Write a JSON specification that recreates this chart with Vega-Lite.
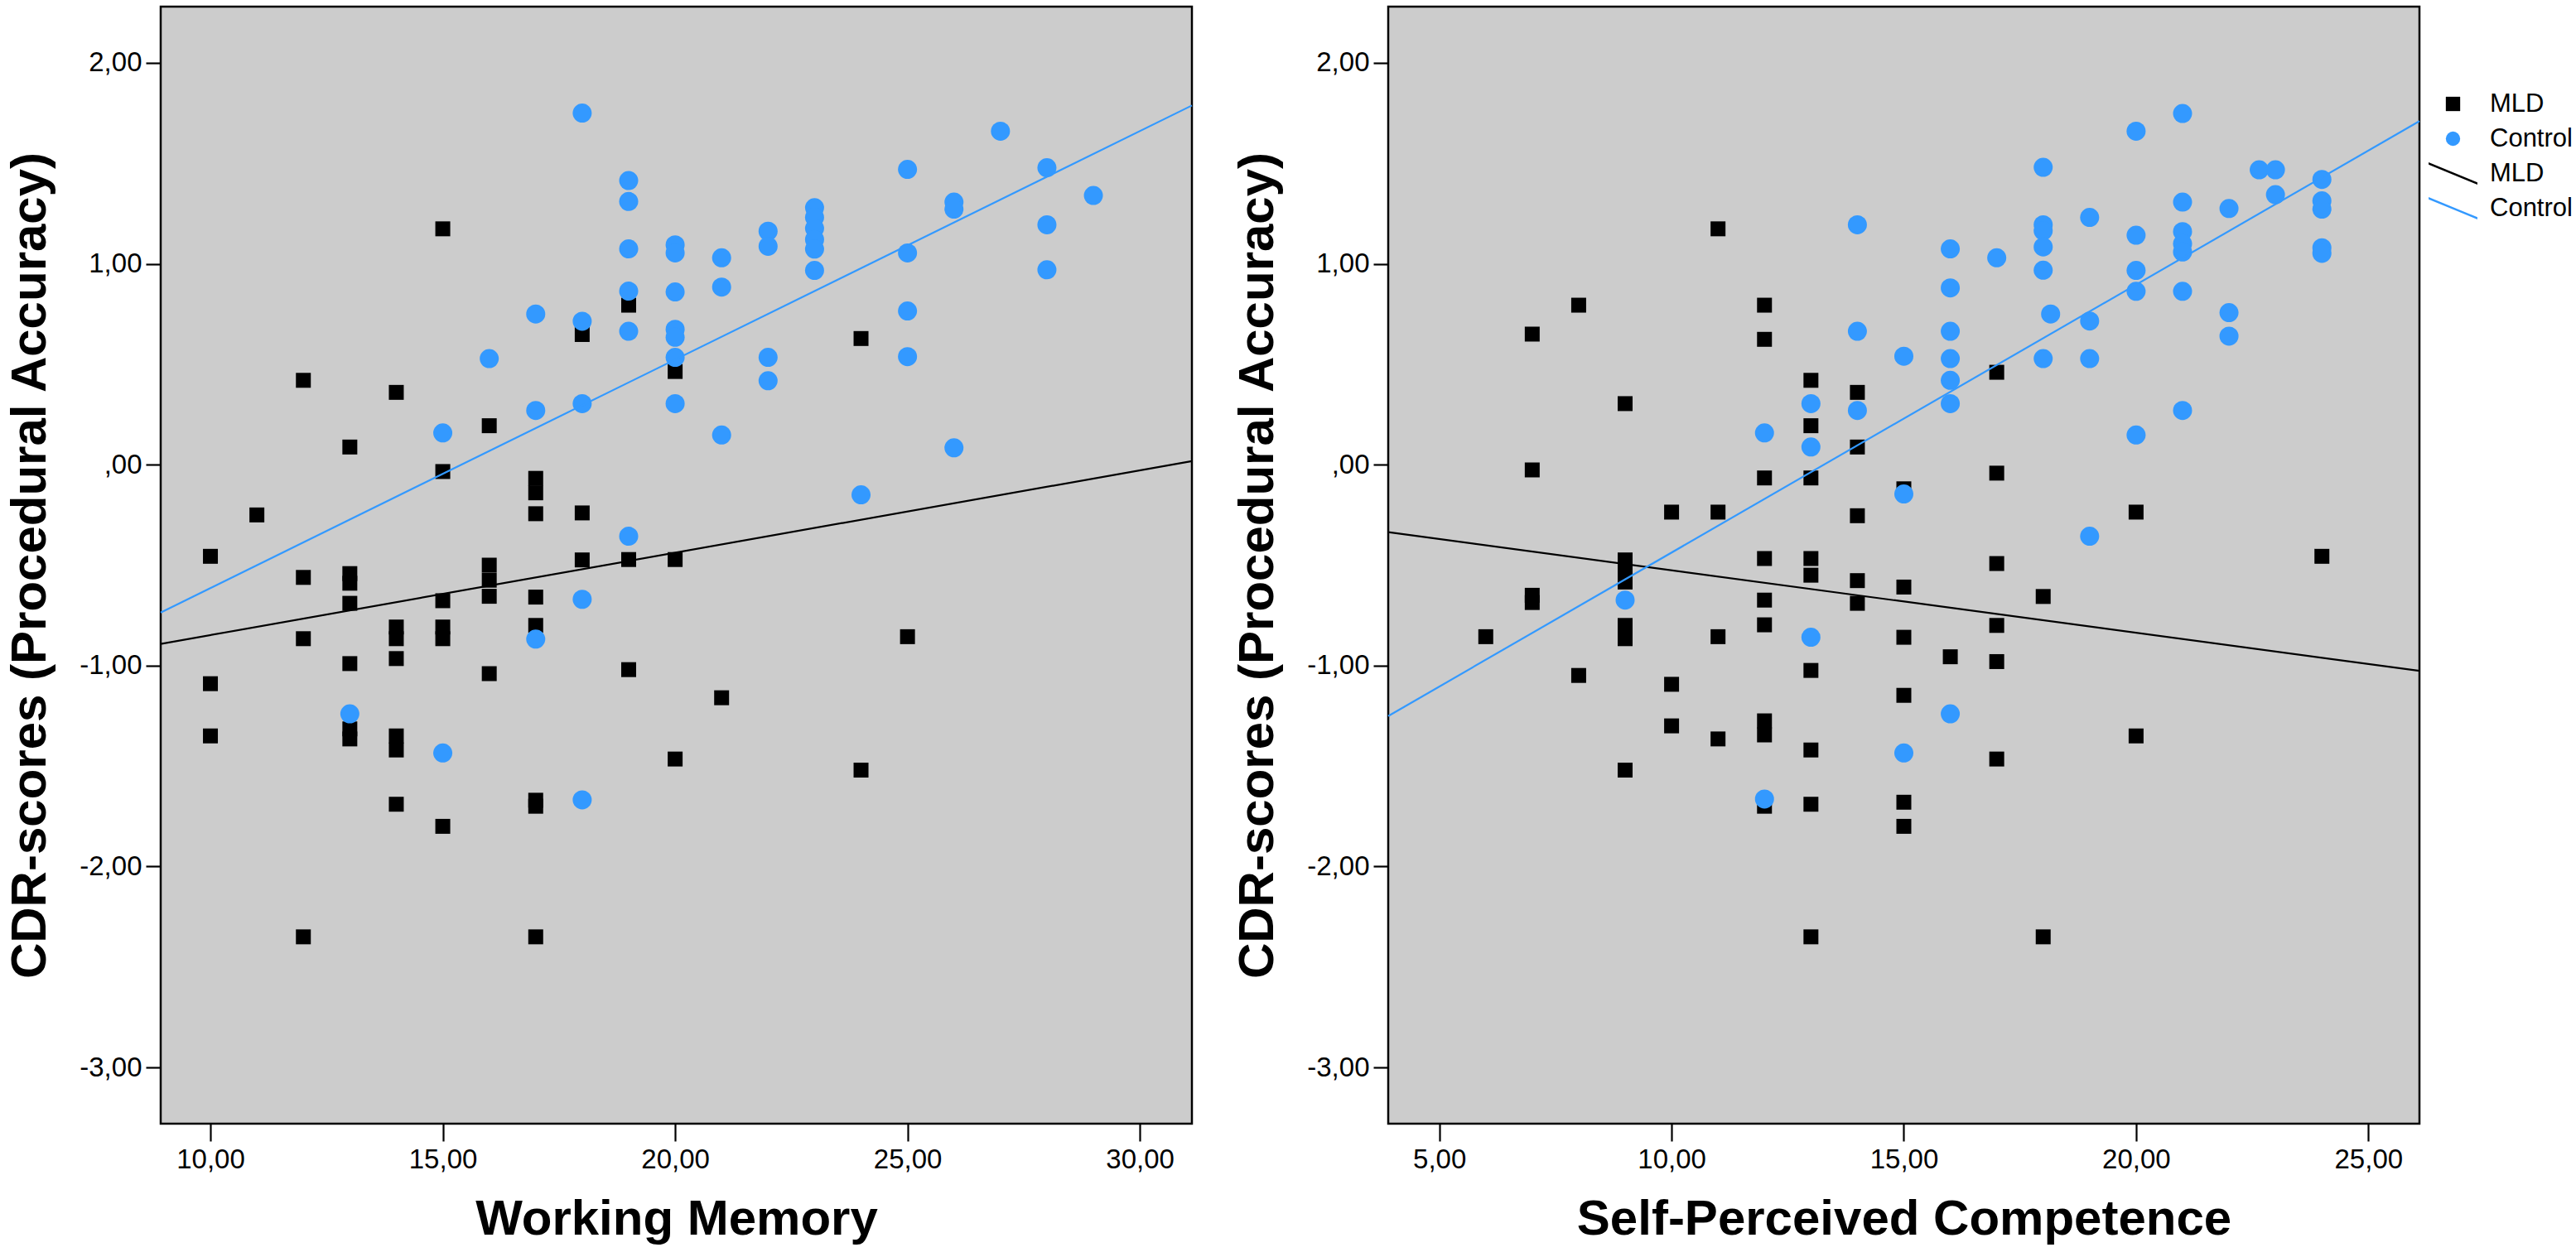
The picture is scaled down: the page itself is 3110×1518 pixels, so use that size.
{
  "$schema": "https://vega.github.io/schema/vega-lite/v6.json",
  "background": "white",
  "padding": {"left": 5, "top": 6, "right": 0, "bottom": 0},
  "config": {
    "view": {"fill": "#cccccc", "stroke": "#000000", "strokeWidth": 2.5},
    "font": "Liberation Sans",
    "axis": {
      "labelFont": "Liberation Sans", "labelFontSize": 33, "labelColor": "#000000",
      "titleFont": "Liberation Sans", "titleFontSize": 60, "titleFontWeight": "bold", "titleColor": "#000000",
      "grid": false, "domain": false, "tickColor": "#000000", "tickWidth": 2.2
    },
    "legend": {
      "labelFont": "Liberation Sans", "labelFontSize": 31, "labelColor": "#000000",
      "symbolSize": 300, "symbolStrokeWidth": 0, "labelOffset": 29, "rowPadding": 10, "padding": 0
    }
  },
  "datasets": {
    "pts": [
      {"p":"wm","x":10,"y":-0.456,"key":"MLD"},{"p":"wm","x":10,"y":-1.09,"key":"MLD"},{"p":"wm","x":10,"y":-1.35,"key":"MLD"},
      {"p":"wm","x":11,"y":-0.25,"key":"MLD"},
      {"p":"wm","x":12,"y":0.42,"key":"MLD"},{"p":"wm","x":12,"y":-0.561,"key":"MLD"},{"p":"wm","x":12,"y":-0.866,"key":"MLD"},{"p":"wm","x":12,"y":-2.35,"key":"MLD"},
      {"p":"wm","x":13,"y":0.088,"key":"MLD"},{"p":"wm","x":13,"y":-0.542,"key":"MLD"},{"p":"wm","x":13,"y":-0.59,"key":"MLD"},{"p":"wm","x":13,"y":-0.69,"key":"MLD"},{"p":"wm","x":13,"y":-0.99,"key":"MLD"},{"p":"wm","x":13,"y":-1.315,"key":"MLD"},{"p":"wm","x":13,"y":-1.365,"key":"MLD"},
      {"p":"wm","x":14,"y":0.36,"key":"MLD"},{"p":"wm","x":14,"y":-0.808,"key":"MLD"},{"p":"wm","x":14,"y":-0.866,"key":"MLD"},{"p":"wm","x":14,"y":-0.965,"key":"MLD"},{"p":"wm","x":14,"y":-1.35,"key":"MLD"},{"p":"wm","x":14,"y":-1.42,"key":"MLD"},{"p":"wm","x":14,"y":-1.69,"key":"MLD"},
      {"p":"wm","x":15,"y":1.174,"key":"MLD"},{"p":"wm","x":15,"y":-0.034,"key":"MLD"},{"p":"wm","x":15,"y":-0.677,"key":"MLD"},{"p":"wm","x":15,"y":-0.808,"key":"MLD"},{"p":"wm","x":15,"y":-0.866,"key":"MLD"},{"p":"wm","x":15,"y":-1.8,"key":"MLD"},
      {"p":"wm","x":16,"y":0.194,"key":"MLD"},{"p":"wm","x":16,"y":-0.5,"key":"MLD"},{"p":"wm","x":16,"y":-0.575,"key":"MLD"},{"p":"wm","x":16,"y":-0.655,"key":"MLD"},{"p":"wm","x":16,"y":-1.04,"key":"MLD"},
      {"p":"wm","x":17,"y":-0.068,"key":"MLD"},{"p":"wm","x":17,"y":-0.14,"key":"MLD"},{"p":"wm","x":17,"y":-0.244,"key":"MLD"},{"p":"wm","x":17,"y":-0.659,"key":"MLD"},{"p":"wm","x":17,"y":-0.8,"key":"MLD"},{"p":"wm","x":17,"y":-1.67,"key":"MLD"},{"p":"wm","x":17,"y":-1.7,"key":"MLD"},{"p":"wm","x":17,"y":-2.35,"key":"MLD"},
      {"p":"wm","x":18,"y":0.648,"key":"MLD"},{"p":"wm","x":18,"y":-0.24,"key":"MLD"},{"p":"wm","x":18,"y":-0.474,"key":"MLD"},
      {"p":"wm","x":19,"y":0.794,"key":"MLD"},{"p":"wm","x":19,"y":-0.472,"key":"MLD"},{"p":"wm","x":19,"y":-1.02,"key":"MLD"},
      {"p":"wm","x":20,"y":0.464,"key":"MLD"},{"p":"wm","x":20,"y":-0.472,"key":"MLD"},{"p":"wm","x":20,"y":-1.465,"key":"MLD"},
      {"p":"wm","x":21,"y":-1.16,"key":"MLD"},
      {"p":"wm","x":24,"y":0.628,"key":"MLD"},{"p":"wm","x":24,"y":-1.52,"key":"MLD"},
      {"p":"wm","x":25,"y":-0.856,"key":"MLD"},
      {"p":"wm","x":13,"y":-1.24,"key":"Control"},
      {"p":"wm","x":15,"y":0.158,"key":"Control"},{"p":"wm","x":15,"y":-1.435,"key":"Control"},
      {"p":"wm","x":16,"y":0.528,"key":"Control"},
      {"p":"wm","x":17,"y":0.75,"key":"Control"},{"p":"wm","x":17,"y":0.27,"key":"Control"},{"p":"wm","x":17,"y":-0.868,"key":"Control"},
      {"p":"wm","x":18,"y":1.75,"key":"Control"},{"p":"wm","x":18,"y":0.714,"key":"Control"},{"p":"wm","x":18,"y":0.304,"key":"Control"},{"p":"wm","x":18,"y":-0.67,"key":"Control"},{"p":"wm","x":18,"y":-1.668,"key":"Control"},
      {"p":"wm","x":19,"y":1.414,"key":"Control"},{"p":"wm","x":19,"y":1.31,"key":"Control"},{"p":"wm","x":19,"y":1.074,"key":"Control"},{"p":"wm","x":19,"y":0.864,"key":"Control"},{"p":"wm","x":19,"y":0.664,"key":"Control"},{"p":"wm","x":19,"y":-0.356,"key":"Control"},
      {"p":"wm","x":20,"y":1.094,"key":"Control"},{"p":"wm","x":20,"y":1.054,"key":"Control"},{"p":"wm","x":20,"y":0.86,"key":"Control"},{"p":"wm","x":20,"y":0.674,"key":"Control"},{"p":"wm","x":20,"y":0.634,"key":"Control"},{"p":"wm","x":20,"y":0.534,"key":"Control"},{"p":"wm","x":20,"y":0.304,"key":"Control"},
      {"p":"wm","x":21,"y":1.03,"key":"Control"},{"p":"wm","x":21,"y":0.884,"key":"Control"},{"p":"wm","x":21,"y":0.148,"key":"Control"},
      {"p":"wm","x":22,"y":1.162,"key":"Control"},{"p":"wm","x":22,"y":1.087,"key":"Control"},{"p":"wm","x":22,"y":0.534,"key":"Control"},{"p":"wm","x":22,"y":0.418,"key":"Control"},
      {"p":"wm","x":23,"y":1.279,"key":"Control"},{"p":"wm","x":23,"y":1.231,"key":"Control"},{"p":"wm","x":23,"y":1.176,"key":"Control"},{"p":"wm","x":23,"y":1.121,"key":"Control"},{"p":"wm","x":23,"y":1.073,"key":"Control"},{"p":"wm","x":23,"y":0.967,"key":"Control"},
      {"p":"wm","x":24,"y":-0.15,"key":"Control"},
      {"p":"wm","x":25,"y":1.47,"key":"Control"},{"p":"wm","x":25,"y":1.054,"key":"Control"},{"p":"wm","x":25,"y":0.765,"key":"Control"},{"p":"wm","x":25,"y":0.538,"key":"Control"},
      {"p":"wm","x":26,"y":1.307,"key":"Control"},{"p":"wm","x":26,"y":1.272,"key":"Control"},{"p":"wm","x":26,"y":0.084,"key":"Control"},
      {"p":"wm","x":27,"y":1.66,"key":"Control"},
      {"p":"wm","x":28,"y":1.478,"key":"Control"},{"p":"wm","x":28,"y":1.194,"key":"Control"},{"p":"wm","x":28,"y":0.97,"key":"Control"},
      {"p":"wm","x":29,"y":1.34,"key":"Control"},

      {"p":"spc","x":6,"y":-0.856,"key":"MLD"},
      {"p":"spc","x":7,"y":0.65,"key":"MLD"},{"p":"spc","x":7,"y":-0.026,"key":"MLD"},{"p":"spc","x":7,"y":-0.65,"key":"MLD"},{"p":"spc","x":7,"y":-0.686,"key":"MLD"},
      {"p":"spc","x":8,"y":0.794,"key":"MLD"},{"p":"spc","x":8,"y":-1.049,"key":"MLD"},
      {"p":"spc","x":9,"y":0.304,"key":"MLD"},{"p":"spc","x":9,"y":-0.474,"key":"MLD"},{"p":"spc","x":9,"y":-0.529,"key":"MLD"},{"p":"spc","x":9,"y":-0.584,"key":"MLD"},{"p":"spc","x":9,"y":-0.8,"key":"MLD"},{"p":"spc","x":9,"y":-0.866,"key":"MLD"},{"p":"spc","x":9,"y":-1.52,"key":"MLD"},
      {"p":"spc","x":10,"y":-0.236,"key":"MLD"},{"p":"spc","x":10,"y":-1.093,"key":"MLD"},{"p":"spc","x":10,"y":-1.3,"key":"MLD"},
      {"p":"spc","x":11,"y":1.174,"key":"MLD"},{"p":"spc","x":11,"y":-0.236,"key":"MLD"},{"p":"spc","x":11,"y":-0.856,"key":"MLD"},{"p":"spc","x":11,"y":-1.365,"key":"MLD"},
      {"p":"spc","x":12,"y":0.794,"key":"MLD"},{"p":"spc","x":12,"y":0.624,"key":"MLD"},{"p":"spc","x":12,"y":-0.066,"key":"MLD"},{"p":"spc","x":12,"y":-0.467,"key":"MLD"},{"p":"spc","x":12,"y":-0.674,"key":"MLD"},{"p":"spc","x":12,"y":-0.797,"key":"MLD"},{"p":"spc","x":12,"y":-1.275,"key":"MLD"},{"p":"spc","x":12,"y":-1.345,"key":"MLD"},{"p":"spc","x":12,"y":-1.7,"key":"MLD"},
      {"p":"spc","x":13,"y":0.42,"key":"MLD"},{"p":"spc","x":13,"y":0.194,"key":"MLD"},{"p":"spc","x":13,"y":-0.066,"key":"MLD"},{"p":"spc","x":13,"y":-0.467,"key":"MLD"},{"p":"spc","x":13,"y":-0.55,"key":"MLD"},{"p":"spc","x":13,"y":-1.024,"key":"MLD"},{"p":"spc","x":13,"y":-1.42,"key":"MLD"},{"p":"spc","x":13,"y":-1.69,"key":"MLD"},{"p":"spc","x":13,"y":-2.35,"key":"MLD"},
      {"p":"spc","x":14,"y":0.36,"key":"MLD"},{"p":"spc","x":14,"y":0.088,"key":"MLD"},{"p":"spc","x":14,"y":-0.254,"key":"MLD"},{"p":"spc","x":14,"y":-0.577,"key":"MLD"},{"p":"spc","x":14,"y":-0.69,"key":"MLD"},
      {"p":"spc","x":15,"y":-0.12,"key":"MLD"},{"p":"spc","x":15,"y":-0.609,"key":"MLD"},{"p":"spc","x":15,"y":-0.859,"key":"MLD"},{"p":"spc","x":15,"y":-1.148,"key":"MLD"},{"p":"spc","x":15,"y":-1.68,"key":"MLD"},{"p":"spc","x":15,"y":-1.8,"key":"MLD"},
      {"p":"spc","x":16,"y":-0.956,"key":"MLD"},
      {"p":"spc","x":17,"y":0.46,"key":"MLD"},{"p":"spc","x":17,"y":-0.042,"key":"MLD"},{"p":"spc","x":17,"y":-0.492,"key":"MLD"},{"p":"spc","x":17,"y":-0.8,"key":"MLD"},{"p":"spc","x":17,"y":-0.98,"key":"MLD"},{"p":"spc","x":17,"y":-1.465,"key":"MLD"},
      {"p":"spc","x":18,"y":-0.656,"key":"MLD"},{"p":"spc","x":18,"y":-2.35,"key":"MLD"},
      {"p":"spc","x":20,"y":-0.236,"key":"MLD"},{"p":"spc","x":20,"y":-1.35,"key":"MLD"},
      {"p":"spc","x":24,"y":-0.456,"key":"MLD"},
      {"p":"spc","x":9,"y":-0.674,"key":"Control"},
      {"p":"spc","x":12,"y":0.158,"key":"Control"},{"p":"spc","x":12,"y":-1.664,"key":"Control"},
      {"p":"spc","x":13,"y":0.304,"key":"Control"},{"p":"spc","x":13,"y":0.088,"key":"Control"},{"p":"spc","x":13,"y":-0.859,"key":"Control"},
      {"p":"spc","x":14,"y":1.194,"key":"Control"},{"p":"spc","x":14,"y":0.664,"key":"Control"},{"p":"spc","x":14,"y":0.27,"key":"Control"},
      {"p":"spc","x":15,"y":0.54,"key":"Control"},{"p":"spc","x":15,"y":-0.146,"key":"Control"},{"p":"spc","x":15,"y":-1.435,"key":"Control"},
      {"p":"spc","x":16,"y":1.074,"key":"Control"},{"p":"spc","x":16,"y":0.88,"key":"Control"},{"p":"spc","x":16,"y":0.664,"key":"Control"},{"p":"spc","x":16,"y":0.528,"key":"Control"},{"p":"spc","x":16,"y":0.42,"key":"Control"},{"p":"spc","x":16,"y":0.304,"key":"Control"},{"p":"spc","x":16,"y":-1.24,"key":"Control"},
      {"p":"spc","x":17,"y":1.03,"key":"Control"},
      {"p":"spc","x":18,"y":1.48,"key":"Control"},{"p":"spc","x":18,"y":1.194,"key":"Control"},{"p":"spc","x":18,"y":1.164,"key":"Control"},{"p":"spc","x":18,"y":1.084,"key":"Control"},{"p":"spc","x":18,"y":0.968,"key":"Control"},{"p":"spc","x":18,"y":0.528,"key":"Control"},
      {"p":"spc","x":18.16,"y":0.75,"key":"Control"},
      {"p":"spc","x":19,"y":1.231,"key":"Control"},{"p":"spc","x":19,"y":0.715,"key":"Control"},{"p":"spc","x":19,"y":0.528,"key":"Control"},{"p":"spc","x":19,"y":-0.356,"key":"Control"},
      {"p":"spc","x":20,"y":1.66,"key":"Control"},{"p":"spc","x":20,"y":1.142,"key":"Control"},{"p":"spc","x":20,"y":0.967,"key":"Control"},{"p":"spc","x":20,"y":0.863,"key":"Control"},{"p":"spc","x":20,"y":0.148,"key":"Control"},
      {"p":"spc","x":21,"y":1.748,"key":"Control"},{"p":"spc","x":21,"y":1.307,"key":"Control"},{"p":"spc","x":21,"y":1.16,"key":"Control"},{"p":"spc","x":21,"y":1.1,"key":"Control"},{"p":"spc","x":21,"y":1.059,"key":"Control"},{"p":"spc","x":21,"y":0.863,"key":"Control"},{"p":"spc","x":21,"y":0.27,"key":"Control"},
      {"p":"spc","x":22,"y":1.275,"key":"Control"},{"p":"spc","x":22,"y":0.757,"key":"Control"},{"p":"spc","x":22,"y":0.64,"key":"Control"},
      {"p":"spc","x":22.65,"y":1.468,"key":"Control"},
      {"p":"spc","x":23,"y":1.468,"key":"Control"},{"p":"spc","x":23,"y":1.344,"key":"Control"},
      {"p":"spc","x":24,"y":1.42,"key":"Control"},{"p":"spc","x":24,"y":1.313,"key":"Control"},{"p":"spc","x":24,"y":1.272,"key":"Control"},{"p":"spc","x":24,"y":1.08,"key":"Control"},{"p":"spc","x":24,"y":1.052,"key":"Control"}
    ],
    "fit": [
      {"p":"wm","x":8.93,"y":-0.892,"key":"MLD line"},{"p":"wm","x":31.12,"y":0.018,"key":"MLD line"},
      {"p":"wm","x":8.93,"y":-0.736,"key":"Control line"},{"p":"wm","x":31.12,"y":1.788,"key":"Control line"},
      {"p":"spc","x":3.9,"y":-0.336,"key":"MLD line"},{"p":"spc","x":26.1,"y":-1.026,"key":"MLD line"},
      {"p":"spc","x":3.9,"y":-1.251,"key":"Control line"},{"p":"spc","x":26.1,"y":1.71,"key":"Control line"}
    ]
  },
  "spacing": 42,
  "resolve": {
    "scale": {"color": "shared", "shape": "shared", "size": "shared"},
    "legend": {"color": "independent", "shape": "independent", "size": "independent"}
  },
  "hconcat": [
    {
      "width": 1245,
      "height": 1349,
      "layer": [
        {
          "data": {"name": "pts"},
          "transform": [{"filter": "datum.p == 'wm'"}],
          "mark": {"type": "point", "filled": true, "opacity": 1},
          "encoding": {
            "x": {"field": "x", "type": "quantitative",
                  "scale": {"domain": [8.93, 31.12], "nice": false, "zero": false},
                  "axis": {"values": [10, 15, 20, 25, 30], "title": "Working Memory", "labelExpr": "datum.value + ',00'", "tickSize": 21, "labelPadding": 6, "titlePadding": 26}},
            "y": {"field": "y", "type": "quantitative",
                  "scale": {"domain": [-3.28, 2.28], "nice": false, "zero": false},
                  "axis": {"values": [2, 1, 0, -1, -2, -3], "title": "CDR-scores (Procedural Accuracy)", "labelExpr": "(datum.value < 0 ? '-' : '') + (datum.value == 0 ? '' : abs(datum.value)) + ',00'", "tickSize": 18, "labelPadding": 5, "titlePadding": 28}},
            "color": {"field": "key", "type": "nominal",
                      "scale": {"domain": ["MLD", "Control", "MLD line", "Control line"], "range": ["#000000", "#3399ff", "#000000", "#3399ff"]},
                      "legend": null},
            "shape": {"field": "key", "type": "nominal",
                      "scale": {"domain": ["MLD", "Control", "MLD line", "Control line"], "range": ["square", "circle", "M-3.4,-1.55L3.4,1.25L3.4,1.55L-3.4,-1.25Z", "M-3.4,-1.55L3.4,1.25L3.4,1.55L-3.4,-1.25Z"]},
                      "legend": null},
            "size": {"field": "key", "type": "ordinal", "scale": {"domain": ["MLD", "Control"], "range": [324, 529]}, "legend": null}
          }
        },
        {
          "data": {"name": "fit"},
          "transform": [{"filter": "datum.p == 'wm' && datum.key == 'MLD line'"}],
          "mark": {"type": "line", "color": "#000000", "strokeWidth": 2.2},
          "encoding": {"x": {"field": "x", "type": "quantitative"}, "y": {"field": "y", "type": "quantitative"}}
        },
        {
          "data": {"name": "fit"},
          "transform": [{"filter": "datum.p == 'wm' && datum.key == 'Control line'"}],
          "mark": {"type": "line", "color": "#3399ff", "strokeWidth": 2.2},
          "encoding": {"x": {"field": "x", "type": "quantitative"}, "y": {"field": "y", "type": "quantitative"}}
        }
      ]
    },
    {
      "width": 1245,
      "height": 1349,
      "layer": [
        {
          "data": {"name": "pts"},
          "transform": [{"filter": "datum.p == 'spc'"}],
          "mark": {"type": "point", "filled": true, "opacity": 1},
          "encoding": {
            "x": {"field": "x", "type": "quantitative",
                  "scale": {"domain": [3.9, 26.1], "nice": false, "zero": false},
                  "axis": {"values": [5, 10, 15, 20, 25], "title": "Self-Perceived Competence", "labelExpr": "datum.value + ',00'", "tickSize": 21, "labelPadding": 6, "titlePadding": 26}},
            "y": {"field": "y", "type": "quantitative",
                  "scale": {"domain": [-3.28, 2.28], "nice": false, "zero": false},
                  "axis": {"values": [2, 1, 0, -1, -2, -3], "title": "CDR-scores (Procedural Accuracy)", "labelExpr": "(datum.value < 0 ? '-' : '') + (datum.value == 0 ? '' : abs(datum.value)) + ',00'", "tickSize": 18, "labelPadding": 5, "titlePadding": 28}},
            "color": {"field": "key", "type": "nominal",
                      "scale": {"domain": ["MLD", "Control", "MLD line", "Control line"], "range": ["#000000", "#3399ff", "#000000", "#3399ff"]},
                      "legend": {"title": null, "orient": "none", "legendX": 1270, "legendY": 102, "labelExpr": "replace(datum.label, ' line', '')",
                                 "encode": {"symbols": {"update": {"fill": {"scale": "color", "field": "value"}, "size": {"signal": "datum.value == 'Control' ? 440 : 270"}, "opacity": {"value": 1}}}}}},
            "shape": {"field": "key", "type": "nominal",
                      "scale": {"domain": ["MLD", "Control", "MLD line", "Control line"], "range": ["square", "circle", "M-3.4,-1.55L3.4,1.25L3.4,1.55L-3.4,-1.25Z", "M-3.4,-1.55L3.4,1.25L3.4,1.55L-3.4,-1.25Z"]},
                      "legend": {"title": null, "orient": "none", "legendX": 1270, "legendY": 102, "labelExpr": "replace(datum.label, ' line', '')",
                                 "encode": {"symbols": {"update": {"fill": {"scale": "color", "field": "value"}, "size": {"signal": "datum.value == 'Control' ? 440 : 270"}, "opacity": {"value": 1}}}}}},
            "size": {"field": "key", "type": "ordinal", "scale": {"domain": ["MLD", "Control"], "range": [324, 529]}, "legend": null}
          }
        },
        {
          "data": {"name": "fit"},
          "transform": [{"filter": "datum.p == 'spc' && datum.key == 'MLD line'"}],
          "mark": {"type": "line", "color": "#000000", "strokeWidth": 2.2},
          "encoding": {"x": {"field": "x", "type": "quantitative"}, "y": {"field": "y", "type": "quantitative"}}
        },
        {
          "data": {"name": "fit"},
          "transform": [{"filter": "datum.p == 'spc' && datum.key == 'Control line'"}],
          "mark": {"type": "line", "color": "#3399ff", "strokeWidth": 2.2},
          "encoding": {"x": {"field": "x", "type": "quantitative"}, "y": {"field": "y", "type": "quantitative"}}
        }
      ]
    }
  ]
}
